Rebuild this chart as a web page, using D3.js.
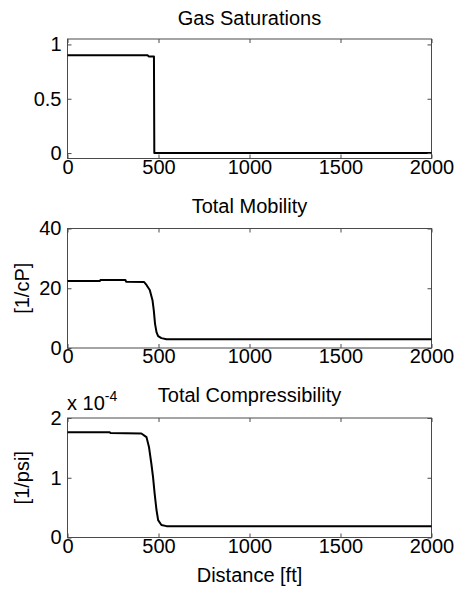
<!DOCTYPE html>
<html>
<head>
<meta charset="utf-8">
<script src="https://cdn.jsdelivr.net/npm/d3@7"></script>
<style>
  html, body { margin: 0; padding: 0; background: #fff; }
  svg { display: block; }
  text { font-family: "Liberation Sans", Arial, sans-serif; fill: #000; }
</style>
</head>
<body>
<svg id="chart" width="456" height="589"></svg>
<script>
// Distance along the reservoir [ft]
const xTicks = [0, 500, 1000, 1500, 2000];

// Gas saturation profile
const gasDist = [0, 440, 446, 475, 477, 2000];
const gasSat  = [0.90, 0.90, 0.89, 0.89, 0, 0];
const gasTicks = [0, 0.5, 1];

// Total mobility profile [1/cP]
const mobDist = [0, 178, 182, 318, 322, 420, 434, 452, 467, 474, 481, 489, 498, 516, 544, 2000];
const mobVal  = [22.4, 22.4, 22.8, 22.8, 22.2, 22.1, 21.1, 19.4, 16.0, 12.7, 8.1, 5.3, 4.0, 3.3, 2.9, 2.9];
const mobTicks = [0, 20, 40];

// Total compressibility profile [1/psi]
const ctDist = [0, 232, 236, 406, 434, 448, 461, 470, 479, 489, 498, 516, 544, 2000];
const ctVal  = [1.76e-4, 1.76e-4, 1.75e-4, 1.74e-4, 1.68e-4, 1.51e-4, 1.23e-4, 1.01e-4, 0.73e-4, 0.46e-4, 0.29e-4, 0.21e-4, 0.19e-4, 0.19e-4];
const ctTicks = [0, 1e-4, 2e-4];

const svg = d3.select("#chart");
const left = 67.5, right = 431.5, plotH = 119.5;
const axisColor = "#4a4a4a";
const fontSize = 20;
const tickLen = 4;

const x = d3.scaleLinear().domain([0, 2000]).range([left, right]);

function panel(opts) {
  const top = opts.top, bottom = top + plotH;
  const y = d3.scaleLinear().domain(opts.domain).range([bottom, top]);
  const g = svg.append("g");

  // box
  g.append("rect")
    .attr("x", left).attr("y", top)
    .attr("width", right - left).attr("height", plotH)
    .attr("fill", "none").attr("stroke", axisColor).attr("stroke-width", 1);

  // data curve
  const pts = opts.xs.map((d, i) => [d, opts.ys[i]]);
  g.append("path")
    .datum(pts)
    .attr("fill", "none")
    .attr("stroke", "#000")
    .attr("stroke-width", 2)
    .attr("stroke-linejoin", "round")
    .attr("d", d3.line().x(d => x(d[0])).y(d => y(d[1])));

  // bottom axis, ticks pointing inward, with mirrored ticks at the top
  const xb = g.append("g").attr("transform", `translate(0,${bottom})`)
    .call(d3.axisBottom(x).tickValues(xTicks).tickFormat(d3.format("d"))
      .tickSizeInner(-tickLen).tickSizeOuter(0).tickPadding(0));
  const xt = g.append("g").attr("transform", `translate(0,${top})`)
    .call(d3.axisTop(x).tickValues(xTicks).tickSizeInner(-tickLen).tickSizeOuter(0).tickFormat(""));
  xb.selectAll("text").attr("dy", null).attr("y", 15).attr("font-size", fontSize)
    .style("font-family", "'Liberation Sans', Arial, sans-serif");

  // left axis with mirrored right ticks
  const yl = g.append("g").attr("transform", `translate(${left},0)`)
    .call(d3.axisLeft(y).tickValues(opts.yTicks).tickSizeInner(-tickLen).tickSizeOuter(0)
      .tickPadding(0).tickFormat(opts.fmt));
  const yr = g.append("g").attr("transform", `translate(${right},0)`)
    .call(d3.axisRight(y).tickValues(opts.yTicks).tickSizeInner(-tickLen).tickSizeOuter(0).tickFormat(""));
  yl.selectAll("text").attr("x", -6).attr("font-size", fontSize)
    .style("font-family", "'Liberation Sans', Arial, sans-serif");

  [xb, xt, yl, yr].forEach(a => {
    a.select(".domain").remove();
    a.selectAll("line").attr("stroke", axisColor);
    a.attr("font-family", null).attr("font-size", null);
  });

  // title
  g.append("text")
    .attr("x", (left + right) / 2).attr("y", opts.titleY)
    .attr("text-anchor", "middle").attr("font-size", fontSize)
    .text(opts.title);

  if (opts.ylabel) {
    g.append("text")
      .attr("transform", `translate(${opts.ylabelX},${(top + bottom) / 2}) rotate(-90)`)
      .attr("text-anchor", "middle").attr("font-size", fontSize)
      .text(opts.ylabel);
  }
  return { top, bottom, y };
}

panel({
  top: 39, domain: [-0.05, 1.05], xs: gasDist, ys: gasSat, yTicks: gasTicks,
  fmt: d3.format("~g"), title: "Gas Saturations", titleY: 25
});

panel({
  top: 228.5, domain: [0, 40], xs: mobDist, ys: mobVal, yTicks: mobTicks,
  fmt: d3.format("d"), title: "Total Mobility", titleY: 213,
  ylabel: "[1/cP]", ylabelX: 29
});

panel({
  top: 418, domain: [0, 2e-4], xs: ctDist, ys: ctVal, yTicks: ctTicks,
  fmt: d => d3.format("~g")(d * 1e4), title: "Total Compressibility", titleY: 402,
  ylabel: "[1/psi]", ylabelX: 29
});

// exponent label for the compressibility axis
const expo = svg.append("text").attr("x", 67).attr("y", 410).attr("font-size", fontSize);
expo.append("tspan").text("x 10");
expo.append("tspan").attr("dy", -9).attr("font-size", 14).text("-4");

// shared x-axis label
svg.append("text")
  .attr("x", (left + right) / 2).attr("y", 582)
  .attr("text-anchor", "middle").attr("font-size", fontSize)
  .text("Distance [ft]");
</script>
</body>
</html>
